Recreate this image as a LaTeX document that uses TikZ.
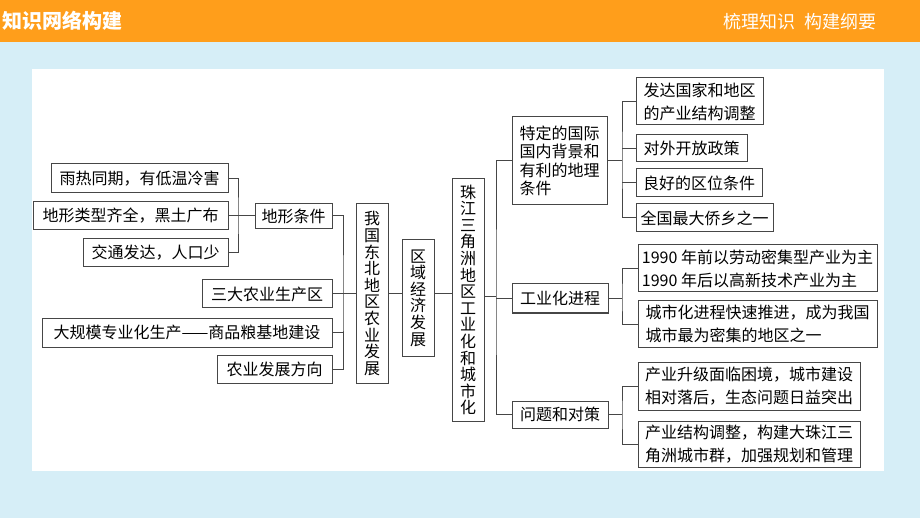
\documentclass[tikz,border=0pt]{standalone}
\usepackage{fontspec}
\setmainfont{Noto Sans CJK SC}
\usepackage{tikz}
\usetikzlibrary{positioning,calc}

\begin{document}
\begin{tikzpicture}[x=1pt, y=-1pt]
	\definecolor{barcolor}{RGB}{255,158,27}
	\definecolor{bgcolor}{RGB}{214,238,247}
	\definecolor{linecolor}{RGB}{70,70,70}
	\tikzstyle{box}=[rectangle, draw=linecolor, line width=1pt, fill=white, inner sep=2pt, align=center, font=\fontsize{16}{18}\selectfont]
	\tikzstyle{vbox}=[box, minimum width=32pt, font=\fontsize{16}{16.6}\selectfont]
	\tikzstyle{mbox}=[box, align=left, font=\fontsize{16}{23}\selectfont]
	\tikzstyle{link}=[draw=linecolor, line width=1pt]

	% Background and header
	\path[use as bounding box] (0,0) rectangle (920,518);
	\fill[bgcolor] (0,42) rectangle (920,518);
	\fill[barcolor] (0,0) rectangle (920,42);
	\fill[white] (32,69) rectangle (884,471);
	\node[anchor=west, text=white, font=\fontsize{20}{20}\selectfont\bfseries] (title) at (-1,21) {知识网络构建};
	\node[text=white, font=\fontsize{18}{18}\selectfont] (motto) at (800,22) {梳理知识\enspace 构建纲要};

	% Left part: conditions of the northeast
	\node[box, minimum width=177pt, minimum height=29pt] (r1) at (139.5,178.5) {雨热同期，有低温冷害};
	\node[box, minimum width=195pt, minimum height=28pt] (r2) at (130.5,216) {地形类型齐全，黑土广布};
	\node[box, minimum width=145pt, minimum height=28pt] (r3) at (155.5,253) {交通发达，人口少};
	\node[box, minimum width=77pt, minimum height=25pt] (dx) at (293.5,216) {地形条件};
	\node[box, minimum width=130pt, minimum height=28pt] (a1) at (267,294) {三大农业生产区};
	\node[box, minimum width=290pt, minimum height=29pt] (a2) at (187,332.5) {大规模专业化生产——商品粮基地建设};
	\node[box, minimum width=115pt, minimum height=28pt] (a3) at (274.5,369) {农业发展方向};

	% Middle column
	\node[vbox, minimum height=179pt] (db) at (372,293.5) {我\\国\\东\\北\\地\\区\\农\\业\\发\\展};
	\node[vbox, minimum height=116pt] (qy) at (418,298) {区\\域\\经\\济\\发\\展};
	\node[vbox, minimum height=242pt] (zj) at (468,300) {珠\\江\\三\\角\\洲\\地\\区\\工\\业\\化\\和\\城\\市\\化};

	% Right part: Pearl River Delta
	\node[box, align=left, minimum width=95pt, minimum height=88pt, font=\fontsize{16}{18.4}\selectfont] (t1) at (559.5,161) {特定的国际\\国内背景和\\有利的地理\\条件};
	\node[mbox, minimum width=127pt, minimum height=47pt] (f1) at (699.5,101.5) {发达国家和地区\\的产业结构调整};
	\node[box, minimum width=111pt, minimum height=27pt] (f2) at (691.5,148.5) {对外开放政策};
	\node[box, minimum width=126pt, minimum height=28pt] (f3) at (699,183) {良好的区位条件};
	\node[box, minimum width=137pt, minimum height=28pt] (f4) at (704.5,218) {全国最大侨乡之一};
	\node[box, minimum width=96pt, minimum height=29pt] (gy) at (560,298.5) {工业化进程};
	\node[mbox, minimum width=239pt, minimum height=47pt] (g1) at (757.5,268.5) {1990 年前以劳动密集型产业为主\\1990 年后以高新技术产业为主};
	\node[mbox, minimum width=239pt, minimum height=46pt] (g2) at (757.5,324) {城市化进程快速推进，成为我国\\城市最为密集的地区之一};
	\node[box, minimum width=96pt, minimum height=27pt] (wt) at (560,414.5) {问题和对策};
	\node[mbox, minimum width=222pt, minimum height=48pt] (h1) at (749,386) {产业升级面临困境，城市建设\\相对落后，生态问题日益突出};
	\node[mbox, minimum width=222pt, minimum height=46pt] (h2) at (749,444) {产业结构调整，构建大珠江三\\角洲城市群，加强规划和管理};

	% Spines of the brackets
	\coordinate (sp1) at (238,216);
	\coordinate (sp2) at (343,294);
	\coordinate (sp3) at (496,297);
	\coordinate (sp4) at (622,161);
	\coordinate (sp5) at (622,298.5);
	\coordinate (sp6) at (622,414.5);

	% Connect the left boxes
	\draw[link] (r1.east) -| (sp1) |- (r3.east);
	\draw[link] (r2.east) -- (r2.east -| dx.west);
	\draw[link] (dx.east) -| (sp2) |- (a3.east);
	\foreach \n in {a1,a2}
	 \draw[link] (\n.east) -- (\n.east -| sp2);
	\draw[link] (sp2) -- (sp2 -| db.west);
	\draw[link] (db.east |- sp2) -- (qy.west |- sp2);
	\draw[link] (qy.east |- sp2) -- (zj.west |- sp2);
	% Connect the right boxes
	\draw[link] (zj.east |- sp3) -- (sp3);
	\draw[link] (t1.west) -| (sp3) |- (wt.west);
	\draw[link] (gy.west) -- (gy.west -| sp3);
	\draw[link] (t1.east) -- (sp4);
	\draw[link] (f1.west) -| (sp4) |- (f4.west);
	\foreach \n in {f2,f3}
	 \draw[link] (\n.west) -- (\n.west -| sp4);
	\draw[link] (gy.east) -- (sp5);
	\draw[link] (g1.west) -| (sp5) |- (g2.west);
	\draw[link] (wt.east) -- (sp6);
	\draw[link] (h1.west) -| (sp6) |- (h2.west);
\end{tikzpicture}
\end{document}
